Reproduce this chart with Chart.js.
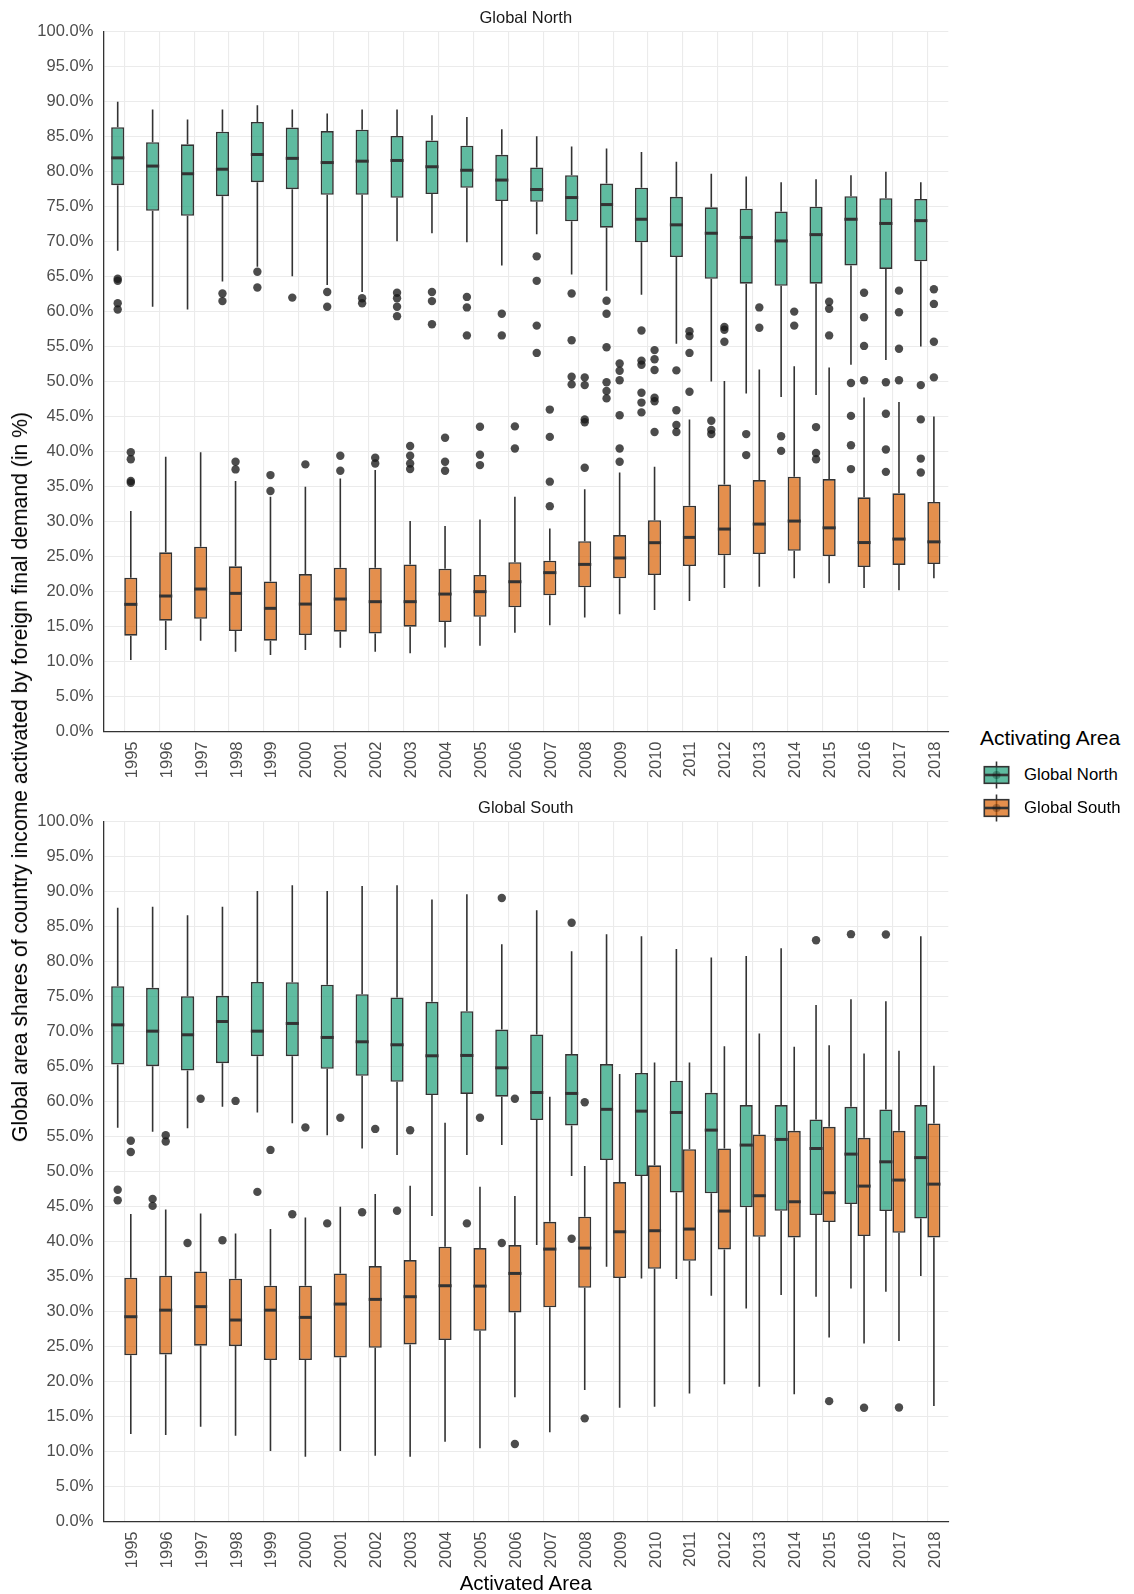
<!DOCTYPE html>
<html>
<head>
<meta charset="utf-8">
<script src="https://cdn.jsdelivr.net/npm/chart.js@4.4.1/dist/chart.umd.min.js"></script>
<style>
  html, body { margin: 0; padding: 0; background: #fff; }
  body { width: 1134px; height: 1594px; position: relative; overflow: hidden; font-family: "Liberation Sans", Arial, sans-serif; }
  .panel { position: absolute; left: 0; }
  .txt { position: absolute; white-space: nowrap; transform: translate(-50%, -50%); }
  .strip { font-size: 16.5px; color: #1a1a1a; }
  .axis-title { font-size: 20.5px; color: #000; }
  .legend-title { position: absolute; left: 980px; top: 738px; transform: translateY(-50%); font-size: 21px; color: #000; white-space: nowrap; }
  .legend-row { position: absolute; left: 982px; height: 32px; display: flex; align-items: center; }
  .legend-row span { margin-left: 12px; font-size: 16.7px; color: #000; white-space: nowrap; }
</style>
</head>
<body>
<canvas id="northPanel" class="panel" width="960" height="790" style="top:0"></canvas>
<canvas id="southPanel" class="panel" width="960" height="790" style="top:790px"></canvas>

<div class="txt strip" style="left:525.8px; top:16.7px">Global North</div>
<div class="txt strip" style="left:525.8px; top:806.5px">Global South</div>
<div class="txt axis-title" style="left:20px; top:776.6px; font-size:21.2px; transform: translate(-50%, -50%) rotate(-90deg)">Global area shares of country income activated by foreign final demand (in %)</div>
<div class="txt axis-title" style="left:525.8px; top:1583px">Activated Area</div>

<div class="legend-title">Activating Area</div>
<div class="legend-row" style="top:759px">
  <svg width="30" height="32"><line x1="14.5" y1="2.5" x2="14.5" y2="29.5" stroke="#333" stroke-width="1.6"/><rect x="2.3" y="7.7" width="24.4" height="16.6" fill="rgba(27,158,119,0.7)" stroke="#333" stroke-width="1.6"/><line x1="2.3" y1="16" x2="26.7" y2="16" stroke="#333" stroke-width="2.6"/><circle cx="14.5" cy="16" r="4" fill="rgba(0,0,0,0.25)"/></svg>
  <span>Global North</span>
</div>
<div class="legend-row" style="top:792px">
  <svg width="30" height="32"><line x1="14.5" y1="2.5" x2="14.5" y2="29.5" stroke="#333" stroke-width="1.6"/><rect x="2.3" y="7.7" width="24.4" height="16.6" fill="rgba(217,95,2,0.7)" stroke="#333" stroke-width="1.6"/><line x1="2.3" y1="16" x2="26.7" y2="16" stroke="#333" stroke-width="2.6"/><circle cx="14.5" cy="16" r="4" fill="rgba(0,0,0,0.25)"/></svg>
  <span>Global South</span>
</div>

<script>
const years = ['1995', '1996', '1997', '1998', '1999', '2000', '2001', '2002', '2003', '2004', '2005', '2006',
               '2007', '2008', '2009', '2010', '2011', '2012', '2013', '2014', '2015', '2016', '2017', '2018'];

// panel "Global North" (activated), activating area Global North
const nnHigh   = [90.0, 88.9, 87.45, 88.9, 89.5, 88.9, 88.3, 88.9, 88.9, 88.06, 87.8, 86.07, 85.07, 83.6, 83.3, 82.8, 81.4, 79.7, 79.3, 78.5, 78.9, 79.5, 80.0, 78.5];
const nnQ3     = [86.35, 84.2, 83.9, 85.7, 87.1, 86.3, 85.8, 86.0, 85.1, 84.45, 83.7, 82.4, 80.6, 79.5, 78.3, 77.7, 76.4, 74.9, 74.7, 74.3, 75.0, 76.5, 76.2, 76.1];
const nnMedian = [81.97, 80.8, 79.7, 80.35, 82.45, 81.9, 81.3, 81.5, 81.6, 80.7, 80.2, 78.8, 77.45, 76.3, 75.3, 73.2, 72.4, 71.2, 70.6, 70.1, 71.0, 73.2, 72.6, 73.0];
const nnQ1     = [78.07, 74.4, 73.7, 76.5, 78.5, 77.5, 76.7, 76.7, 76.26, 76.8, 77.7, 75.8, 75.7, 72.9, 72.0, 69.9, 67.8, 64.7, 64.0, 63.7, 64.0, 66.6, 66.1, 67.2];
const nnLow    = [68.7, 60.7, 60.3, 64.3, 66.4, 65.06, 63.8, 62.8, 70.07, 71.2, 69.9, 66.6, 71.07, 65.3, 63.0, 62.4, 55.4, 50.0, 48.3, 47.8, 48.1, 52.4, 53.1, 55.0];
const nnOutliers = [
  [64.7, 64.4, 61.2, 60.3], [], [], [62.6, 61.5], [65.7, 63.45], [62.0], [62.8, 60.7], [61.9, 61.2],
  [62.7, 61.9, 60.7, 59.35], [62.8, 61.5, 58.2], [62.1, 60.6, 56.6], [59.7, 56.6],
  [67.9, 64.4, 58.0, 54.1], [62.6, 55.9, 50.7, 49.6], [61.55, 59.7, 54.9, 49.9, 48.65, 47.6],
  [57.3, 53.0, 52.4, 48.4, 47.0, 45.6], [51.6, 45.9, 43.8, 42.8], [44.4, 43.1, 42.5], [42.5, 39.5],
  [42.2, 40.1], [43.5, 39.8, 38.9], [49.8, 45.1, 40.9, 37.5], [49.9, 45.4, 40.3, 37.1], [49.5, 44.6, 39.0, 37.0]
];

// panel "Global North" (activated), activating area Global South
const nsHigh   = [31.5, 39.26, 39.9, 35.8, 33.55, 34.98, 36.17, 37.36, 30.07, 29.36, 30.31, 33.55, 29.0, 34.6, 37.0, 37.84, 44.6, 50.1, 51.74, 52.2, 52.0, 47.74, 47.1, 45.0];
const nsQ3     = [21.98, 25.6, 26.4, 23.6, 21.45, 22.5, 23.4, 23.4, 23.88, 23.26, 22.36, 24.2, 24.4, 27.2, 28.07, 30.2, 32.27, 35.3, 35.93, 36.4, 36.07, 33.46, 34.03, 32.8];
const nsMedian = [18.17, 19.36, 20.36, 19.74, 17.6, 18.21, 18.93, 18.55, 18.55, 19.64, 19.98, 21.4, 22.7, 23.88, 24.8, 26.98, 27.74, 28.93, 29.64, 30.07, 29.1, 27.0, 27.5, 27.1];
const nsQ1     = [13.7, 15.83, 16.1, 14.36, 12.98, 13.79, 14.26, 14.0, 14.98, 15.64, 16.4, 17.74, 19.46, 20.6, 21.9, 22.36, 23.65, 25.17, 25.36, 25.83, 25.07, 23.5, 23.8, 23.93];
const nsLow    = [10.2, 11.64, 12.98, 11.4, 10.93, 11.64, 11.98, 11.4, 11.17, 12.02, 12.26, 14.12, 15.2, 16.3, 16.74, 17.36, 18.64, 20.5, 20.7, 21.9, 21.17, 20.5, 20.2, 21.9];
const nsOutliers = [
  [39.9, 38.9, 35.8, 35.55], [], [], [38.55, 37.45], [36.64, 34.36], [38.17], [39.4, 37.26], [39.12, 38.3],
  [40.79, 39.4, 38.3, 37.5], [41.98, 38.55, 37.26], [43.55, 39.55, 38.07], [43.6, 40.45],
  [46.0, 42.1, 35.7, 32.2], [50.6, 49.5, 44.6, 44.2, 37.7], [52.6, 51.55, 50.2, 45.2, 40.45, 38.55],
  [54.5, 53.2, 51.65, 47.7, 47.2, 42.8], [57.2, 56.5, 54.1, 48.55], [57.8, 57.4, 55.7], [60.6, 57.7],
  [60.0, 58.0], [61.4, 60.4, 56.6], [62.7, 59.2, 55.1, 50.2], [63.0, 59.9, 54.7, 50.2], [63.2, 61.1, 55.7, 50.6]
];

// panel "Global South" (activated), activating area Global North
const snHigh   = [87.7, 87.83, 86.64, 87.83, 90.1, 90.93, 90.1, 90.8, 90.93, 88.88, 89.64, 82.5, 87.36, 81.5, 83.9, 83.64, 81.8, 80.6, 80.8, 81.9, 73.79, 74.64, 74.36, 83.64];
const snQ3     = [76.5, 76.26, 75.07, 75.12, 77.1, 77.07, 76.7, 75.36, 74.88, 74.26, 72.93, 70.3, 69.6, 66.8, 65.36, 64.1, 62.98, 61.26, 59.5, 59.5, 57.45, 59.26, 58.88, 59.5];
const snMedian = [70.97, 70.07, 69.55, 71.45, 70.07, 71.17, 69.17, 68.55, 68.12, 66.55, 66.6, 64.83, 61.3, 61.17, 58.9, 58.64, 58.45, 55.93, 53.79, 54.6, 53.3, 52.5, 51.4, 52.0];
const snQ1     = [65.3, 65.07, 64.45, 65.5, 66.5, 66.5, 64.7, 63.7, 62.83, 60.93, 61.1, 60.7, 57.36, 56.6, 51.64, 49.36, 47.0, 46.9, 44.9, 44.4, 43.79, 45.36, 44.36, 43.3];
const snLow    = [56.26, 55.7, 56.2, 59.26, 58.45, 56.9, 55.2, 53.3, 52.36, 43.64, 52.36, 53.8, 39.5, 49.36, 36.4, 34.74, 34.64, 32.26, 30.45, 32.36, 32.12, 33.31, 32.83, 35.07];
const snOutliers = [
  [47.4, 45.9], [46.1, 45.1], [39.8], [40.2], [47.1], [43.9], [42.6], [44.2], [44.4], [], [42.6], [89.1, 39.8],
  [], [85.55, 40.4], [], [], [], [], [], [], [83.07], [83.93], [83.88], []
];

// panel "Global South" (activated), activating area Global South
const ssHigh   = [43.93, 44.6, 44.02, 41.17, 41.79, 43.45, 44.98, 46.79, 47.98, 56.98, 47.83, 46.5, 60.7, 50.8, 63.93, 65.6, 65.6, 67.93, 69.74, 67.83, 68.07, 66.88, 67.26, 65.12];
const ssQ3     = [34.83, 35.12, 35.74, 34.69, 33.69, 33.69, 35.45, 36.5, 37.36, 39.26, 39.07, 39.5, 42.83, 43.55, 48.5, 50.9, 53.2, 53.3, 55.31, 55.83, 56.4, 54.83, 55.83, 56.88];
const ssMedian = [29.26, 30.2, 30.7, 28.79, 30.2, 29.17, 31.07, 31.74, 32.12, 33.69, 33.64, 35.45, 38.93, 39.07, 41.4, 41.55, 41.79, 44.36, 46.55, 45.69, 46.98, 47.93, 48.79, 48.21];
const ssQ1     = [23.74, 23.88, 25.12, 25.07, 23.07, 23.07, 23.45, 24.83, 25.31, 25.93, 27.26, 29.88, 30.6, 33.4, 34.79, 36.12, 37.26, 38.88, 40.69, 40.6, 42.79, 40.79, 41.26, 40.6];
const ssLow    = [12.5, 12.36, 13.55, 12.26, 10.07, 9.26, 10.07, 9.4, 9.26, 11.4, 10.45, 17.74, 12.74, 18.79, 16.26, 16.4, 18.3, 19.6, 19.26, 18.2, 26.31, 25.45, 25.79, 16.5];
const ssOutliers = [
  [54.4, 52.8], [55.2, 54.3], [60.4], [60.1], [53.1], [56.3], [57.7], [56.1], [55.9], [], [57.7], [60.4, 11.07],
  [], [59.9, 14.74], [], [], [], [], [], [], [17.2], [16.26], [16.3], []
];

const yTicks = [0, 5, 10, 15, 20, 25, 30, 35, 40, 45, 50, 55, 60, 65, 70, 75, 80, 85, 90, 95, 100];

const NORTH_FILL = 'rgba(27, 158, 119, 0.7)';
const SOUTH_FILL = 'rgba(217, 95, 2, 0.7)';
const LINE = '#333333';
const FONT = '"Liberation Sans", Arial, sans-serif';

// whiskers go under the boxes, medians and outliers on top
const boxParts = {
    id: 'boxParts',
    beforeDatasetsDraw(chart) {
        const ctx = chart.ctx;
        const yScale = chart.scales.y;
        chart.data.datasets.forEach((ds, d) => {
            const meta = chart.getDatasetMeta(d);
            meta.data.forEach((bar, i) => {
                ctx.save();
                ctx.strokeStyle = LINE;
                ctx.lineWidth = 1.6;
                ctx.beginPath();
                ctx.moveTo(bar.x, yScale.getPixelForValue(ds.high[i]));
                ctx.lineTo(bar.x, yScale.getPixelForValue(ds.q3[i]));
                ctx.moveTo(bar.x, yScale.getPixelForValue(ds.q1[i]));
                ctx.lineTo(bar.x, yScale.getPixelForValue(ds.low[i]));
                ctx.stroke();
                ctx.restore();
            });
        });
    },
    afterDatasetsDraw(chart) {
        const ctx = chart.ctx;
        const yScale = chart.scales.y;
        chart.data.datasets.forEach((ds, d) => {
            const meta = chart.getDatasetMeta(d);
            meta.data.forEach((bar, i) => {
                const half = bar.width / 2;
                const ym = yScale.getPixelForValue(ds.median[i]);
                ctx.save();
                ctx.strokeStyle = LINE;
                ctx.lineWidth = 3;
                ctx.beginPath();
                ctx.moveTo(bar.x - half, ym);
                ctx.lineTo(bar.x + half, ym);
                ctx.stroke();
                ctx.fillStyle = 'rgba(25, 25, 25, 0.78)';
                ds.outliers[i].forEach(v => {
                    ctx.beginPath();
                    ctx.arc(bar.x, yScale.getPixelForValue(v), 4.2, 0, Math.PI * 2);
                    ctx.fill();
                });
                ctx.restore();
            });
        });
    }
};

function boxDataset(label, fill, q1, q3, median, low, high, outliers) {
    return {
        label: label,
        data: years.map((yr, i) => ({ x: i, y: [q1[i], q3[i]] })),
        q1: q1, q3: q3, median: median, low: low, high: high, outliers: outliers,
        backgroundColor: fill,
        borderColor: LINE,
        borderWidth: 1.6,
        borderSkipped: false
    };
}

function renderPanel(canvasId, northSet, southSet) {
    const ctx = document.getElementById(canvasId).getContext('2d');
    new Chart(ctx, {
        type: 'bar',
        data: { datasets: [northSet, southSet] },
        plugins: [boxParts],
        options: {
            responsive: false,
            animation: false,
            events: [],
            categoryPercentage: 0.75,
            barPercentage: 1.0,
            layout: { padding: { top: 31.7, left: 0, right: 11.7, bottom: 8.5 } },
            plugins: {
                legend: { display: false },
                tooltip: { enabled: false }
            },
            scales: {
                x: {
                    type: 'linear',
                    offset: false,
                    min: -0.6,
                    max: 23.6,
                    afterBuildTicks: axis => { axis.ticks = years.map((yr, i) => ({ value: i })); },
                    afterFit: axis => { axis.height = 50; },
                    ticks: {
                        autoSkip: false,
                        minRotation: 90,
                        maxRotation: 90,
                        padding: 10,
                        labelOffset: 8,
                        color: '#4d4d4d',
                        font: { family: FONT, size: 16.5 },
                        callback: value => years[value]
                    },
                    grid: { offset: false, color: '#ebebeb', lineWidth: 1.1, drawTicks: false },
                    border: { display: true, color: LINE, width: 1.3 }
                },
                y: {
                    min: 0,
                    max: 100,
                    afterBuildTicks: axis => { axis.ticks = yTicks.map(v => ({ value: v })); },
                    afterFit: axis => { axis.width = 103.3; },
                    ticks: {
                        autoSkip: false,
                        padding: 10,
                        color: '#4d4d4d',
                        font: { family: FONT, size: 16.5 },
                        callback: value => value.toFixed(1) + '%'
                    },
                    grid: { color: '#ebebeb', lineWidth: 1.1, drawTicks: false },
                    border: { display: true, color: LINE, width: 1.3 }
                }
            }
        }
    });
}

renderPanel('northPanel',
    boxDataset('Global North', NORTH_FILL, nnQ1, nnQ3, nnMedian, nnLow, nnHigh, nnOutliers),
    boxDataset('Global South', SOUTH_FILL, nsQ1, nsQ3, nsMedian, nsLow, nsHigh, nsOutliers));

renderPanel('southPanel',
    boxDataset('Global North', NORTH_FILL, snQ1, snQ3, snMedian, snLow, snHigh, snOutliers),
    boxDataset('Global South', SOUTH_FILL, ssQ1, ssQ3, ssMedian, ssLow, ssHigh, ssOutliers));
</script>
</body>
</html>
